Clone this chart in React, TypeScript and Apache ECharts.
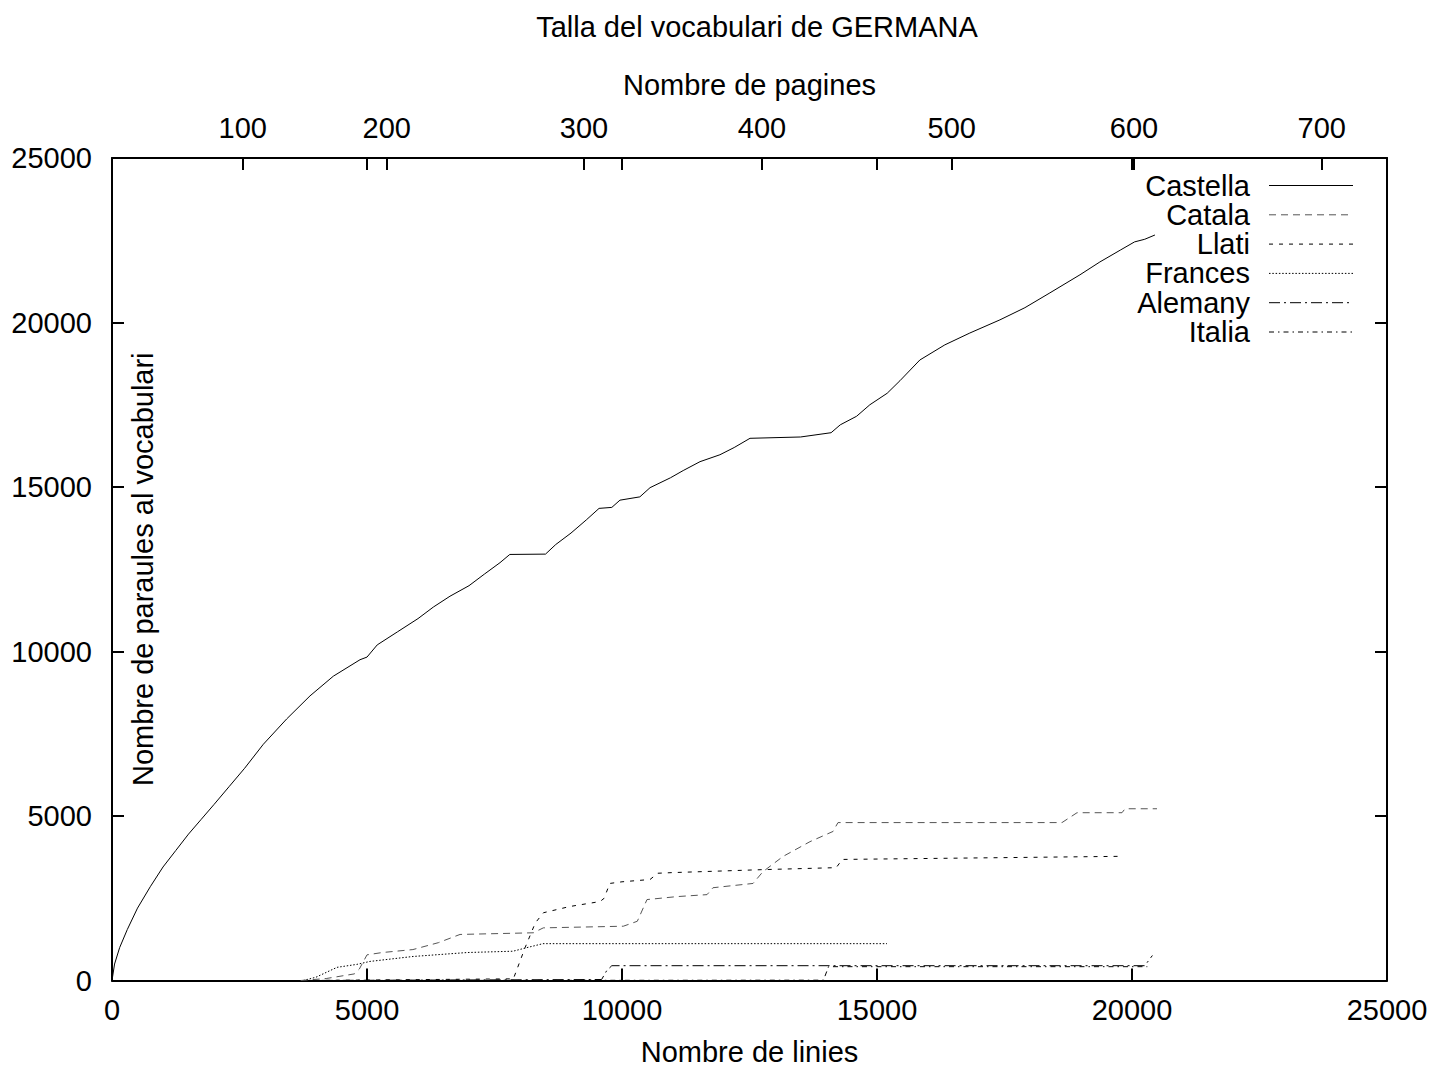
import React, { useEffect, useRef } from "react";
import * as echarts from "echarts";

const SERIES_NAMES = ["Castella", "Catala", "Llati", "Frances", "Alemany", "Italia"];

const castellaData = [[0,0],[50,500],[150,1000],[300,1550],[500,2200],[750,2850],[1000,3450],[1250,3950],[1500,4450],[1750,4900],[2000,5350],[2300,5900],[2600,6450],[2967,7180],[3425,7950],[3882,8650],[4340,9250],[4863,9750],[5000,9830],[5200,10200],[5600,10600],[6000,11000],[6300,11350],[6627,11680],[7000,12000],[7300,12350],[7608,12700],[7800,12950],[8500,12960],[8700,13250],[9000,13600],[9300,14000],[9550,14350],[9800,14380],[9960,14600],[10350,14700],[10550,14980],[10950,15280],[11200,15500],[11530,15770],[11920,15980],[12200,16200],[12510,16480],[13000,16500],[13500,16520],[14100,16650],[14280,16890],[14600,17150],[14860,17500],[15200,17850],[15450,18230],[15840,18860],[16330,19320],[16820,19680],[17410,20080],[17900,20450],[18390,20900],[18980,21450],[19370,21840],[19770,22200],[20050,22450],[20250,22530],[20450,22660]];

const catalaData = [[3700,0],[4200,60],[4750,200],[4850,350],[5000,780],[5300,850],[5900,940],[6400,1150],[6824,1400],[8261,1450],[8457,1600],[10026,1650],[10300,1800],[10490,2460],[11078,2550],[11667,2610],[11784,2820],[12569,2950],[12765,3310],[13157,3770],[13686,4220],[14137,4530],[14235,4800],[18627,4800],[18922,5100],[19804,5100],[19863,5220],[20490,5220]];

const llatiData = [[3800,0],[7870,50],[8100,1000],[8300,1750],[8460,2060],[8980,2250],[9570,2400],[9650,2500],[9760,2950],[10000,3000],[10550,3070],[10700,3260],[11000,3280],[12765,3370],[14200,3430],[14320,3680],[19820,3775]];

const francesData = [[3750,0],[4000,100],[4412,400],[4800,490],[5059,580],[5902,730],[6961,850],[7863,890],[8137,1000],[8451,1120],[15196,1120]];

const alemanyData = [[3700,0],[9600,30],[9700,300],[9800,450],[20250,450],[20400,760]];

const italiaData = [[3800,0],[13950,10],[14050,420],[20300,420]];

const SERIES_DATA = [castellaData, catalaData, llatiData, francesData, alemanyData, italiaData];
const SERIES_COLORS = ["#000000", "#555555", "#000000", "#000000", "#000000", "#000000"];
const SERIES_DASH: (number[] | "solid")[] = ["solid", [7, 5], [4, 6], [1.5, 1.8], [11, 4, 2, 4], [5, 4, 1.5, 4]];

const X_MAX = 25000;
const Y_MAX = 25000;
const TICK_STEP = 5000;

const PAGE_TICK_LINES = [2563, 5386, 9255, 12745, 16465, 20040, 23720];
const PAGE_TICK_LABELS = ["100", "200", "300", "400", "500", "600", "700"];

const MIRROR_TICKS: number[] = [];
for (let v = TICK_STEP; v < X_MAX; v += TICK_STEP) MIRROR_TICKS.push(v);
const TOP_TICKS = Array.from(new Set([...PAGE_TICK_LINES, ...MIRROR_TICKS])).sort((a, b) => a - b);

const FONT = "'Liberation Sans', Arial, Helvetica, sans-serif";
const FS = 29;

export default function App() {
  const ref = useRef<HTMLDivElement>(null);
  useEffect(() => {
    if (!ref.current) return;
    const chart = echarts.init(ref.current, undefined, { renderer: "svg" });
    const mkLine = () => ({ show: true, onZero: false, lineStyle: { color: "#000", width: 2 } });
    const mkTick = () => ({ show: true, inside: true, length: 12, lineStyle: { color: "#000", width: 2 } });
    const label = { color: "#000", fontSize: FS, fontFamily: FONT };
    const plain = (v: number) => String(v);

    const legendGraphics: any[] = [];
    SERIES_NAMES.forEach((name, i) => {
      const y = 185.5 + i * 29.3;
      legendGraphics.push({
        type: "text",
        x: 1250,
        y,
        style: { text: name, fill: "#000", font: `${FS}px ${FONT}`, align: "right", verticalAlign: "middle" },
      });
      const dash = SERIES_DASH[i];
      legendGraphics.push({
        type: "line",
        shape: { x1: 1269, y1: y, x2: 1353, y2: y },
        style: {
          stroke: SERIES_COLORS[i],
          lineWidth: 1,
          lineDash: dash === "solid" ? null : dash,
        },
      });
    });

    chart.setOption({
      animation: false,
      backgroundColor: "#fff",
      title: {
        text: "Talla del vocabulari de GERMANA",
        left: 752,
        top: 7,
        textAlign: "center",
        textStyle: { color: "#000", fontSize: FS, fontWeight: "normal", fontFamily: FONT },
      },
      grid: { left: 112, top: 158, width: 1275, height: 823, containLabel: false },
      xAxis: [
        {
          type: "value",
          position: "bottom",
          min: 0,
          max: X_MAX,
          interval: TICK_STEP,
          name: "Nombre de linies",
          nameLocation: "middle",
          nameGap: 71,
          nameTextStyle: { ...label, verticalAlign: "middle" },
          axisLine: mkLine(),
          axisTick: mkTick(),
          axisLabel: { ...label, margin: 29, verticalAlign: "middle", formatter: plain },
          splitLine: { show: false },
        },
        {
          type: "value",
          position: "top",
          min: 0,
          max: X_MAX,
          name: "Nombre de pagines",
          nameLocation: "middle",
          nameGap: 73,
          nameTextStyle: { ...label, verticalAlign: "middle" },
          axisLine: mkLine(),
          axisTick: { ...mkTick(), customValues: TOP_TICKS },
          axisLabel: {
            ...label,
            margin: 30,
            verticalAlign: "middle",
            customValues: PAGE_TICK_LINES,
            formatter: (v: number) => {
              const idx = PAGE_TICK_LINES.indexOf(v);
              return idx >= 0 ? PAGE_TICK_LABELS[idx] : "";
            },
          },
          splitLine: { show: false },
        },
      ],
      yAxis: [
        {
          type: "value",
          position: "left",
          min: 0,
          max: Y_MAX,
          interval: TICK_STEP,
          name: "Nombre de paraules al vocabulari",
          nameLocation: "middle",
          nameGap: -31,
          nameTextStyle: { ...label, verticalAlign: "middle" },
          axisLine: mkLine(),
          axisTick: mkTick(),
          axisLabel: { ...label, margin: 20, formatter: plain },
          splitLine: { show: false },
        },
        {
          type: "value",
          position: "right",
          min: 0,
          max: Y_MAX,
          interval: TICK_STEP,
          axisLine: mkLine(),
          axisTick: mkTick(),
          axisLabel: { show: false },
          splitLine: { show: false },
        },
      ],
      series: SERIES_NAMES.map((name, i) => ({
        name,
        type: "line",
        xAxisIndex: 0,
        yAxisIndex: 0,
        data: SERIES_DATA[i],
        showSymbol: false,
        symbol: "none",
        lineStyle: { color: SERIES_COLORS[i], width: 1, type: SERIES_DASH[i] },
        z: 3 + (SERIES_NAMES.length - i),
      })),
      graphic: legendGraphics,
    });
    return () => chart.dispose();
  }, []);
  return (
    <div
      ref={ref}
      style={{ position: "fixed", left: 0, top: 0, width: 1441, height: 1071, background: "#fff" }}
    />
  );
}
